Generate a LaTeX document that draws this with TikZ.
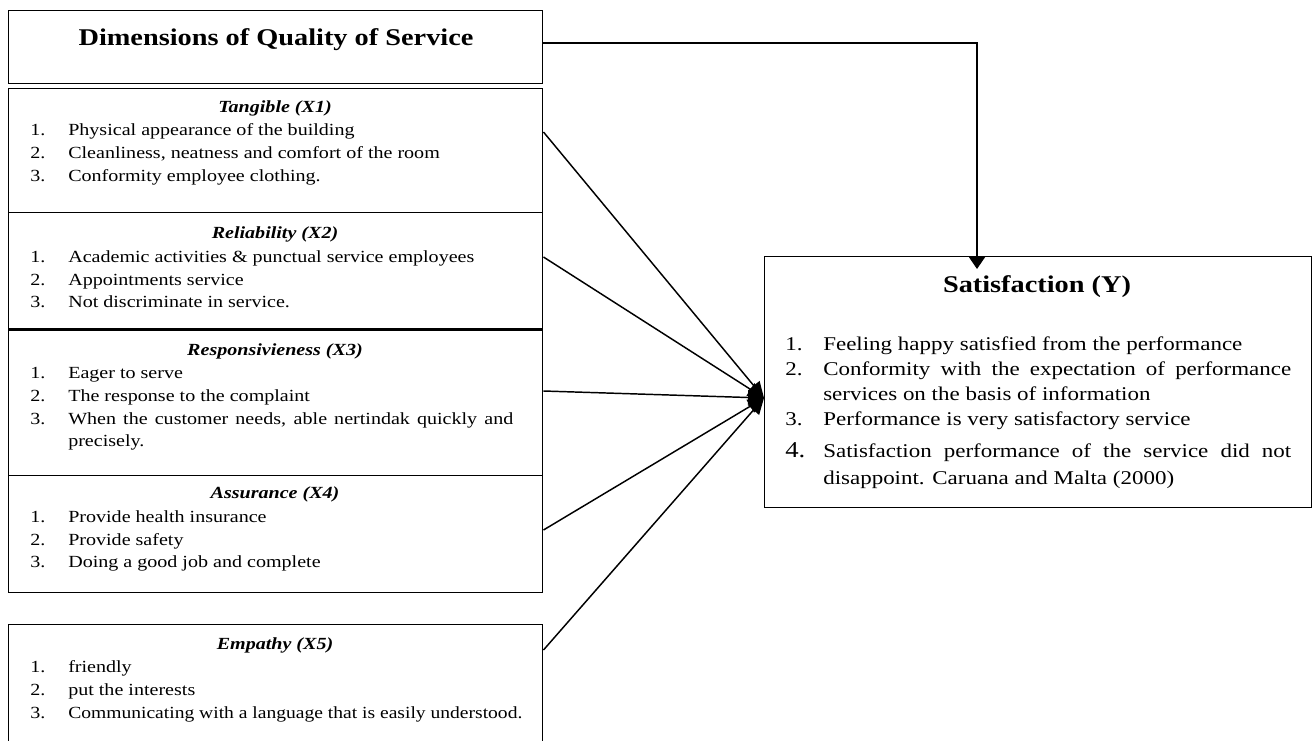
\documentclass[tikz,border=0pt]{standalone}
\usepackage{fontspec}
\setmainfont[FakeStretch=1.18]{Liberation Serif}
\usetikzlibrary{arrows.meta,calc}
\newcommand\myitem[5]{%
  \node[lt] (#1n) at (#2,#3) {#4.};
  \node[lt] (#1) at (#2+38,#3) {#5};}
\begin{document}
\begin{tikzpicture}[x=0.75pt,y=-0.75pt,
  box/.style n args={2}{draw, line width=1.1pt, anchor=north west, inner sep=0pt,
     minimum width=#1*0.75pt, minimum height=#2*0.75pt},
  lt/.style={anchor=base west, inner sep=0pt, font=\fontsize{12.75}{15}\selectfont},
  st/.style={anchor=base west, inner sep=0pt, font=\fontsize{14.6}{17}\selectfont},
  hd/.style={anchor=base, inner sep=0pt, font=\fontsize{12.75}{15}\selectfont\bfseries\itshape},
  ttl/.style={anchor=base, inner sep=0pt, font=\fontsize{18}{22}\selectfont\bfseries},
  conn/.style={line width=1.1pt, -{Triangle[length=12pt, width=11pt]}},
  topconn/.style={line width=1.1pt, -{Triangle[length=9pt, width=12pt]}}]
\clip (0,0) rectangle (1312,740);
\useasboundingbox (0,0) rectangle (1312,740);
% boxes
\node[box={534}{73}] (dim) at (8,10) {};
\node[box={534}{124}] (tang) at (8,88) {};
\node[box={534}{116}] (rel) at (8,212) {};
\node[box={534}{147}] (resp) at (8,328) {};
\node[box={534}{117}] (assu) at (8,475) {};
\node[box={534}{140}] (emp) at (8,624) {};
\node[box={547}{251}] (sat) at (764,256) {};
\draw[line width=2.2pt] (rel.south west) -- (rel.south east);
% titles
\node[ttl] (dimt) at (276,45) {Dimensions of Quality of Service};
\node[ttl] (satt) at (1037,292) {Satisfaction (Y)};
% Tangible
\node[hd] (tgh) at (275,112) {Tangible (X1)};
\myitem{tg1}{30}{135}{1}{Physical appearance of the building}
\myitem{tg2}{30}{158}{2}{Cleanliness, neatness and comfort of the room}
\myitem{tg3}{30}{181}{3}{Conformity employee clothing.}
% Reliability
\node[hd] (rlh) at (275,238) {Reliability (X2)};
\myitem{rl1}{30}{262}{1}{Academic activities \& punctual service employees}
\myitem{rl2}{30}{285}{2}{Appointments service}
\myitem{rl3}{30}{307}{3}{Not discriminate in service.}
% Responsiveness
\node[hd] (rsh) at (275,355) {Responsivieness (X3)};
\myitem{rs1}{30}{378}{1}{Eager to serve}
\myitem{rs2}{30}{401}{2}{The response to the complaint}
\myitem{rs3}{30}{424}{3}{\makebox[333.75pt][s]{When the customer needs, able nertindak quickly and}}
\node[lt] (rs3b) at (68,446) {precisely.};
% Assurance
\node[hd] (ash) at (275,498) {Assurance (X4)};
\myitem{as1}{30}{522}{1}{Provide health insurance}
\myitem{as2}{30}{545}{2}{Provide safety}
\myitem{as3}{30}{567}{3}{Doing a good job and complete}
% Empathy
\node[hd] (emh) at (275,649) {Empathy (X5)};
\myitem{em1}{30}{672}{1}{friendly}
\myitem{em2}{30}{695}{2}{put the interests}
\myitem{em3}{30}{718}{3}{\scalebox{0.975}[1]{Communicating with a language that is easily understood.}}
% Satisfaction items
\node[st] (s1n) at (785,350) {1.};
\node[st] (s1) at (823,350) {Feeling happy satisfied from the performance};
\node[st] (s2n) at (785,375) {2.};
\node[st] (s2) at (823,375) {\makebox[351pt][s]{Conformity with the expectation of performance}};
\node[st] (s2b) at (823,400) {services on the basis of information};
\node[st] (s3n) at (785,425) {3.};
\node[st] (s3) at (823,425) {Performance is very satisfactory service};
\node[st, font=\fontsize{17}{20}\selectfont] (s4n) at (785,457) {4.};
\node[st] (s4) at (823,457) {\makebox[351pt][s]{Satisfaction performance of the service did not}};
\node[st] (s4b) at (823,484) {disappoint. Caruana and Malta (2000)};
% connectors
\coordinate (target) at ($(sat.north west)+(0,142)$);
\coordinate (toptip) at ($(sat.north west)+(213,13)$);
\draw[topconn] ($(dim.north east)+(0,33)$) -| (toptip);
\draw[conn] ($(tang.north east)+(0,44)$) -- (target);
\draw[conn] ($(rel.north east)+(0,45)$) -- (target);
\draw[conn] ($(resp.north east)+(0,63)$) -- (target);
\draw[conn] ($(assu.north east)+(0,55)$) -- (target);
\draw[conn] ($(emp.north east)+(0,26)$) -- (target);
\end{tikzpicture}
\end{document}
